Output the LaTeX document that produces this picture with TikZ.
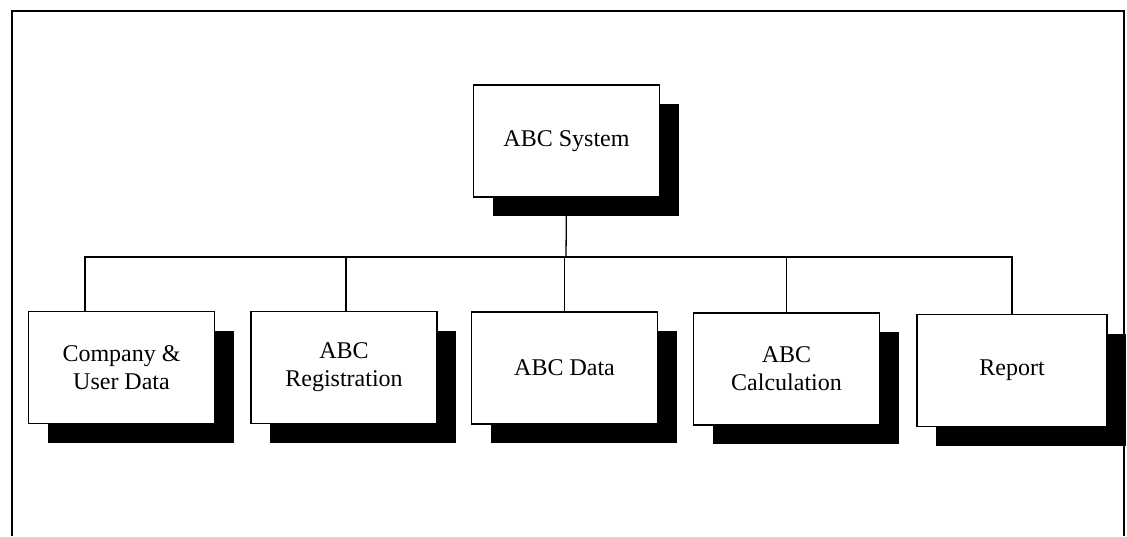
\documentclass[tikz,border=0pt]{standalone}
\usepackage{fontspec}
\setmainfont{Liberation Serif}
\usetikzlibrary{shadows}
\tikzset{
  box/.style={draw=black, line width=1.3pt, fill=white,
    minimum width=186pt, minimum height=112pt, inner sep=0pt,
    align=center, font=\fontsize{24}{28}\selectfont,
    drop shadow={shadow xshift=19pt, shadow yshift=-19pt, fill=black, opacity=1}},
  link/.style={line width=1.3pt},
  frame/.style={line width=2pt}
}
\begin{document}
\begin{tikzpicture}[x=1pt,y=-1pt]
\useasboundingbox (0,0) rectangle (1127,536);
\fill[white] (0,0) rectangle (1127,536);
\draw[frame] (12,536) -- (12,11) -- (1124,11) -- (1124,536);
\node[box] (top) at (566.5,141) {ABC System};
\node[box] (b1) at (121.5,367.5) {Company \&\\User Data};
\node[box] (b2) at (344,367.5) {ABC\\Registration};
\node[box] (b3) at (564.5,368) {ABC Data};
\node[box] (b4) at (786.5,369) {ABC\\Calculation};
\node[box, minimum width=190pt] (b5) at (1012,370.5) {Report};
\coordinate (bus) at (566,257);
\draw[link] (top.south) -- (bus);
\draw[link] (bus) -| ([xshift=-36.5pt]b1.north);
\draw[link] (bus) -| ([xshift=2pt]b2.north);
\draw[link] (bus) -| (b3.north);
\draw[link] (bus) -| (b4.north);
\draw[link] (bus) -| (b5.north);
\end{tikzpicture}
\end{document}
